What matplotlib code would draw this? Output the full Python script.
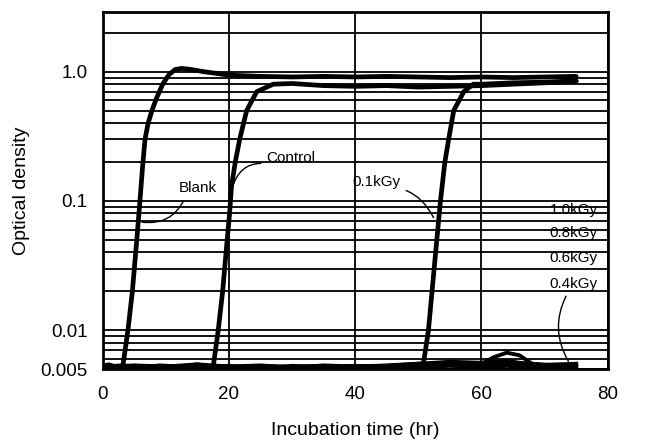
import matplotlib
matplotlib.use("Agg")
import matplotlib.pyplot as plt
from matplotlib.ticker import LogLocator, NullFormatter, FixedLocator

plt.rcParams['font.family'] = ['Liberation Sans', 'DejaVu Sans']

# growth curves (time in hr, optical density)
t_blank = [0, 1, 2, 3.2, 4.0, 4.7, 5.4, 5.9, 6.3, 6.7, 7.2, 7.8, 8.5, 9.5, 10.5, 11.5, 12.5, 14, 16, 18, 20, 25, 30, 35, 40, 45, 50, 55, 60, 65, 70, 75]
od_blank = [0.0053, 0.0054, 0.0052, 0.0053, 0.010, 0.02, 0.05, 0.10, 0.18, 0.30, 0.40, 0.50, 0.62, 0.80, 0.95, 1.04, 1.06, 1.04, 1.0, 0.97, 0.94, 0.92, 0.91, 0.92, 0.91, 0.92, 0.91, 0.90, 0.91, 0.90, 0.91, 0.92]

t_control = [0, 3, 6, 9, 12, 15, 17.5, 18.3, 19.0, 19.5, 20.1, 20.4, 21.0, 21.7, 22.8, 24.4, 27, 30, 35, 40, 45, 50, 55, 60, 65, 70, 75]
od_control = [0.0052, 0.0053, 0.0051, 0.0053, 0.0052, 0.0054, 0.0052, 0.010, 0.02, 0.038, 0.08, 0.13, 0.20, 0.30, 0.50, 0.70, 0.80, 0.81, 0.78, 0.77, 0.78, 0.76, 0.77, 0.78, 0.80, 0.82, 0.84]

t_01 = [0, 5, 10, 15, 20, 25, 30, 35, 40, 45, 50.8, 51.6, 52.5, 53.5, 54.2, 54.8, 55.6, 57.2, 58.7, 60, 65, 70, 75]
od_01 = [0.0052, 0.0053, 0.0052, 0.0054, 0.0052, 0.0053, 0.0051, 0.0053, 0.0052, 0.0053, 0.0055, 0.010, 0.03, 0.10, 0.20, 0.30, 0.50, 0.70, 0.80, 0.80, 0.82, 0.83, 0.85]

t_low = [0, 5, 10, 15, 20, 25, 30, 35, 40, 45, 50, 55, 60, 62, 64, 66, 68, 70, 75]
od_04 = [0.0051, 0.0052, 0.0051, 0.0053, 0.0051, 0.0052, 0.0051, 0.0052, 0.0053, 0.0052, 0.0054, 0.0056, 0.0055, 0.0062, 0.0067, 0.0064, 0.0055, 0.0054, 0.0055]
od_06 = [0.0052, 0.0051, 0.0053, 0.0052, 0.0051, 0.0053, 0.0052, 0.0051, 0.0052, 0.0053, 0.0055, 0.0057, 0.0056, 0.0057, 0.0058, 0.0056, 0.0055, 0.0054, 0.0053]
od_08 = [0.0051, 0.0053, 0.0052, 0.0051, 0.0052, 0.0051, 0.0053, 0.0052, 0.0051, 0.0052, 0.0053, 0.0054, 0.0053, 0.0054, 0.0055, 0.0054, 0.0053, 0.0052, 0.0053]
od_10 = [0.0052, 0.0052, 0.0051, 0.0052, 0.0053, 0.0051, 0.0052, 0.0053, 0.0052, 0.0051, 0.0052, 0.0053, 0.0052, 0.0052, 0.0053, 0.0052, 0.0051, 0.0052, 0.0052]

fig = plt.figure(figsize=(6.5, 4.41), dpi=100)
ax = fig.add_axes([0.158, 0.163, 0.777, 0.810])

for t, od in [(t_blank, od_blank), (t_control, od_control), (t_01, od_01)]:
    ax.plot(t, od, color='black', lw=3.4, solid_capstyle='round', zorder=3)
for od in [od_04, od_06, od_08, od_10]:
    ax.plot(t_low, od, color='black', lw=2.8, zorder=3)

ax.set_yscale('log')
ax.set_xlim(0, 80)
ax.set_ylim(0.005, 2.9)

ax.xaxis.set_major_locator(FixedLocator([0, 20, 40, 60, 80]))
ax.yaxis.set_major_locator(FixedLocator([0.005, 0.01, 0.1, 1.0]))
ax.set_yticklabels(['0.005', '0.01', '0.1', '1.0'])
ax.yaxis.set_minor_locator(LogLocator(base=10, subs=[2, 3, 4, 5, 6, 7, 8, 9]))
ax.yaxis.set_minor_formatter(NullFormatter())

ax.yaxis.grid(True, which='both', color='black', lw=1.3)
ax.xaxis.grid(True, which='major', color='black', lw=1.3)
ax.tick_params(which='both', length=0, labelsize=13.5)
ax.tick_params(axis='y', pad=11)
ax.tick_params(axis='x', pad=12)
for s in ax.spines.values():
    s.set_linewidth(2)

ax.set_xlabel('Incubation time (hr)', fontsize=14, labelpad=14)
ax.set_ylabel('Optical density', fontsize=14, labelpad=7)

lead = dict(arrowstyle='-', color='black', lw=1)
ax.annotate('Blank', xy=(5.8, 0.069), xytext=(15.0, 0.125), fontsize=11,
            ha='center', va='center',
            arrowprops=dict(lead, relpos=(0.2, 0), connectionstyle='arc3,rad=-0.4'))
ax.annotate('Control', xy=(20.4, 0.12), xytext=(29.8, 0.215), fontsize=11,
            ha='center', va='center',
            arrowprops=dict(lead, relpos=(0.15, 0), connectionstyle='arc3,rad=0.5'))
ax.annotate('0.1kGy', xy=(52.6, 0.071), xytext=(43.4, 0.14), fontsize=11,
            ha='center', va='center',
            arrowprops=dict(lead, relpos=(0.4, 0), connectionstyle='arc3,rad=-0.4'))
for label, y in [('1.0kGy', 0.085), ('0.8kGy', 0.056), ('0.6kGy', 0.036)]:
    ax.text(74.6, y, label, fontsize=11, ha='center', va='center', zorder=1)
ax.annotate('0.4kGy', xy=(74.0, 0.0055), xytext=(74.6, 0.0228), fontsize=11,
            ha='center', va='center',
            arrowprops=dict(lead, relpos=(0.4, 0), connectionstyle='arc3,rad=0.3'))

fig.savefig('out.png', dpi=100)
